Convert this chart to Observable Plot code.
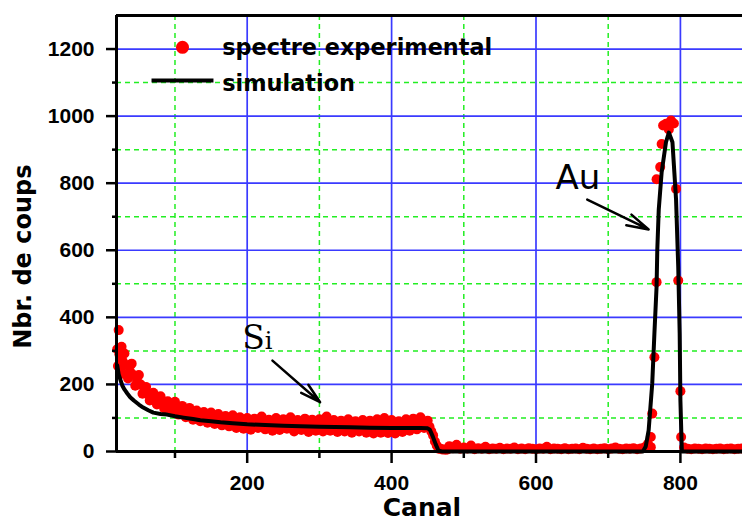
<!DOCTYPE html>
<html>
<head>
<meta charset="utf-8">
<script src="https://cdn.jsdelivr.net/npm/d3@7"></script>
<script src="https://cdn.jsdelivr.net/npm/@observablehq/plot@0.6"></script>
<style>
  html, body { margin: 0; padding: 0; background: #fff; }
  #chart svg { display: block; }
</style>
</head>
<body>
<div id="chart"></div>
<script>
// ---- Tick values ----
const xMajorTicks = [200, 400, 600, 800];
const xMinorTicks = [100, 300, 500, 700];
const yMajorTicks = [0, 200, 400, 600, 800, 1000, 1200];
const yMinorTicks = [100, 300, 500, 700, 900, 1100];

// ---- Experimental spectrum (red points) ----
const edgeChannels = [20, 21, 22, 23, 24, 26, 28];
const edgeCounts   = [305, 255, 362, 290, 240, 312, 232];

const siChannels = d3.range(25, 480, 5); // channels 25..475
const siCounts = [
  262, 292, 218, 262, 196, 228, 172, 192, 152,
  175, 140, 165, 128, 150, 118, 148, 110, 136, 102,
  130, 95, 122, 90, 118, 86, 116, 82, 112, 78,
  106, 75, 108, 70, 102, 68, 100, 65, 98, 70,
  104, 66, 95, 62, 100, 64, 96, 68, 102, 60,
  94, 64, 98, 58, 95, 62, 96, 60, 104, 62,
  94, 58, 92, 60, 96, 56, 90, 60, 94, 56,
  92, 54, 96, 56, 100, 55, 94, 54, 90, 58,
  96, 62, 98, 66, 102, 70, 92, 60, 30, 8,
  6, 5
];
const siMidChannels = d3.range(27.5, 480, 5); // channels 27.5..477.5
const siMidCounts = [
  270, 258, 240, 228, 210, 200, 182, 170, 165,
  152, 156, 142, 140, 132, 136, 124, 126, 118, 114,
  112, 106, 108, 100, 104, 98, 100, 94, 96, 90,
  92, 88, 90, 84, 86, 82, 84, 80, 86, 84,
  82, 80, 78, 82, 80, 78, 84, 82, 78, 76,
  80, 78, 76, 78, 80, 76, 80, 84, 78, 80,
  76, 74, 78, 76, 74, 72, 76, 74, 76, 72,
  74, 76, 74, 78, 76, 74, 72, 72, 74, 76,
  78, 80, 82, 84, 86, 82, 74, 48, 18, 8,
  6, 6
];

const bgChannels = d3.range(480, 755, 5); // 480..750
const bgCounts = [
  16, 10, 20, 8, 12, 9, 18, 7, 10, 8,
  14, 7, 9, 8, 11, 7, 9, 8, 12, 7,
  9, 7, 10, 8, 7, 9, 8, 14, 7, 9,
  8, 7, 10, 7, 8, 9, 7, 11, 8, 7,
  9, 7, 8, 10, 7, 9, 12, 8, 7, 9,
  8, 10, 7, 9, 12
];

const peakChannels = [755, 759, 759, 761, 764, 767, 767, 772, 774, 776, 780, 784, 787, 791, 794, 797, 800, 801];
const peakCounts   = [22, 13, 43, 113, 281, 505, 812, 848, 917, 972, 977, 960, 987, 978, 783, 510, 180, 43];

const tailChannels = d3.range(805, 890, 5); // 805..885
const tailCounts = [12, 8, 7, 9, 8, 7, 9, 8, 7, 8, 9, 7, 8, 9, 7, 8, 9];

// ---- Simulation (black line) ----
const simChannels = [20, 22, 25, 27, 30, 34, 38, 43, 50, 56,
  63, 70, 80, 89, 100, 112, 125, 135, 150, 163,
  180, 200, 225, 250, 274, 300, 343, 370, 400, 440,
  450, 453, 457, 461, 465, 470, 600, 748, 752, 756,
  761, 764, 767, 768, 770, 774, 780, 784, 789, 794,
  797, 799, 800, 802, 810, 886];
const simCounts = [257, 230, 210, 197, 185, 173, 162, 152, 140, 131,
  123, 116, 112, 110, 105, 101, 97, 93, 90, 87,
  84, 81, 79, 77, 75, 74, 72, 71, 70, 70,
  69, 65, 45, 22, 2, 0, 0, 0, 15, 63,
  203, 352, 492, 602, 721, 832, 922, 951, 922, 750,
  550, 352, 153, 0, 0, 0];

// ---- Annotations & legend (data coordinates) ----
const arrowStartX = [235, 671];
const arrowStartY = [271, 751];
const arrowEndX   = [301, 756];
const arrowEndY   = [147, 662];
const labelNames = ["Si", "Au"];
const labelX = [193, 627];
const labelY = [306, 784];
const legendLabels = ["spectre experimental", "simulation"];

// ---- Build tables ----
const pts = (cs, ns) => cs.map((c, i) => ({ch: c, n: ns[i]}));
const expData = [
  ...pts(edgeChannels, edgeCounts),
  ...pts(siChannels, siCounts),
  ...pts(siMidChannels, siMidCounts),
  ...pts(bgChannels, bgCounts),
  ...pts(peakChannels, peakCounts),
  ...pts(tailChannels, tailCounts)
];
const simData = pts(simChannels, simCounts);
const arrows = arrowStartX.map((x, i) => ({x1: x, y1: arrowStartY[i], x2: arrowEndX[i], y2: arrowEndY[i]}));
const labels = labelNames.map((t, i) => ({x: labelX[i], y: labelY[i], t}));

const RED = "#ff0000";
const BLUE = "#3a3aff";
const GREEN = "#22ee22";
const TICKFONT = "'Liberation Sans', Arial, sans-serif";
const LABELFONT = "'DejaVu Sans', Verdana, sans-serif";

const chart = Plot.plot({
  width: 742,
  height: 522,
  marginLeft: 116,
  marginRight: 0,
  marginTop: 15,
  marginBottom: 71,
  style: {background: "#fff", color: "#000", overflow: "visible"},
  x: {domain: [19, 886]},
  y: {domain: [0, 1300]},
  marks: [
    // grids
    Plot.gridX(xMinorTicks, {stroke: GREEN, strokeOpacity: 1, strokeWidth: 1.5, strokeDasharray: "5,4"}),
    Plot.gridY(yMinorTicks, {stroke: GREEN, strokeOpacity: 1, strokeWidth: 1.5, strokeDasharray: "5,4"}),
    Plot.gridX(xMajorTicks, {stroke: BLUE, strokeOpacity: 1, strokeWidth: 1.7}),
    Plot.gridY(yMajorTicks.filter(d => d > 0), {stroke: BLUE, strokeOpacity: 1, strokeWidth: 1.7}),
    // data
    Plot.dot(expData, {x: "ch", y: "n", r: 5, fill: RED, stroke: null}),
    Plot.line(simData, {x: "ch", y: "n", stroke: "#000", strokeWidth: 4}),
    // axes
    Plot.axisX(xMinorTicks, {tickSize: 7, strokeWidth: 2.5, tickFormat: () => "", label: null}),
    Plot.axisY(yMinorTicks, {tickSize: 4, strokeWidth: 2.5, tickFormat: () => "", label: null}),
    Plot.axisX(xMajorTicks, {tickSize: 12, tickPadding: 12, strokeWidth: 2.5, fontSize: 21, fontWeight: "bold", fontFamily: TICKFONT, tickFormat: d => String(d), label: null}),
    Plot.axisY(yMajorTicks, {tickSize: 10, tickPadding: 12, strokeWidth: 2.5, fontSize: 21, fontWeight: "bold", fontFamily: TICKFONT, tickFormat: d => String(d), label: null}),
    Plot.ruleX([19], {stroke: "#000", strokeWidth: 3}),
    Plot.ruleY([0], {stroke: "#000", strokeWidth: 3}),
    Plot.ruleY([1300], {stroke: "#000", strokeWidth: 3}),
    // axis titles
    Plot.text(["Canal"], {x: 442, y: -191, text: d => d, textAnchor: "middle", lineAnchor: "bottom", fontSize: 25, fontWeight: "bold", fontFamily: LABELFONT}),
    Plot.text(["Nbr. de coups"], {x: -99, y: 581, text: d => d, rotate: -90, textAnchor: "middle", lineAnchor: "bottom", fontSize: 24, fontWeight: "bold", fontFamily: LABELFONT}),
    // legend
    Plot.dot([{x: 110.4, y: 1205}], {x: "x", y: "y", r: 6.5, fill: RED, stroke: null}),
    Plot.link([{x1: 67.5, x2: 153.3, y: 1106}], {x1: "x1", x2: "x2", y1: "y", y2: "y", stroke: "#000", strokeWidth: 4}),
    Plot.text([{x: 165.4, y: 1181, t: legendLabels[0]}, {x: 165.4, y: 1076, t: legendLabels[1]}],
      {x: "x", y: "y", text: "t", textAnchor: "start", lineAnchor: "bottom", fontSize: 22.4, fontWeight: "bold", fontFamily: LABELFONT}),
    // annotations
    Plot.arrow(arrows, {x1: "x1", y1: "y1", x2: "x2", y2: "y2", stroke: "#000", strokeWidth: 2.5, headLength: 16, headAngle: 30}),
    Plot.text(labels.filter(d => d.t === "Si"), {x: "x", y: "y", text: "t", textAnchor: "start", lineAnchor: "bottom", fontSize: 33, fontFamily: "'DejaVu Serif', 'Liberation Serif', serif"}),
    Plot.text(labels.filter(d => d.t === "Au"), {x: "x", y: "y", text: "t", textAnchor: "start", lineAnchor: "bottom", fontSize: 34, fontFamily: LABELFONT})
  ]
});

document.getElementById("chart").appendChild(chart);

// smaller "i" in "Si" (keeps the text content "Si")
d3.select(chart).selectAll("text").each(function () {
  if (this.textContent === "Si") {
    this.textContent = "S";
    const ts = document.createElementNS("http://www.w3.org/2000/svg", "tspan");
    ts.setAttribute("font-size", "24");
    ts.textContent = "i";
    this.appendChild(ts);
  }
});
</script>
</body>
</html>
